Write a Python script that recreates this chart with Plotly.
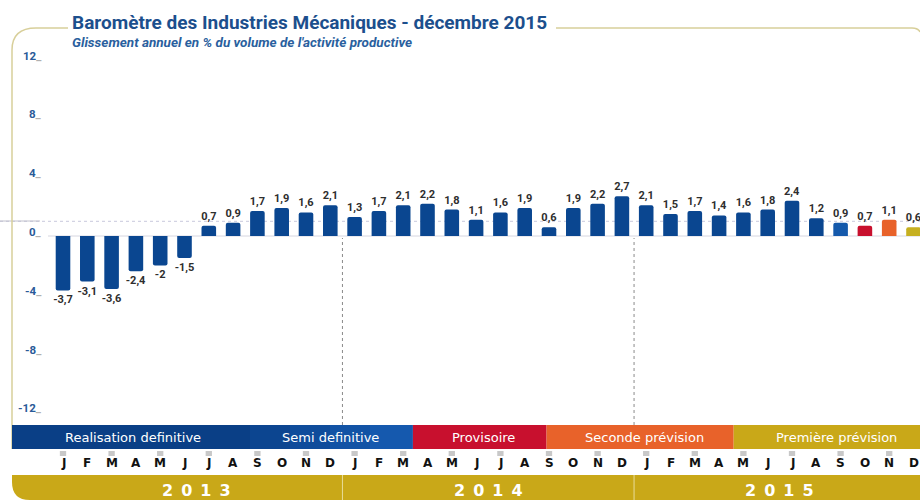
import plotly.graph_objects as go

# ---------------- data ----------------
month_letters = ["J", "F", "M", "A", "M", "J", "J", "A", "S", "O", "N", "D"] * 3
years = ["2013", "2014", "2015"]
values = [-3.7, -3.1, -3.6, -2.4, -2, -1.5, 0.7, 0.9, 1.7, 1.9, 1.6, 2.1,
          1.3, 1.7, 2.1, 2.2, 1.8, 1.1, 1.6, 1.9, 0.6, 1.9, 2.2, 2.7,
          2.1, 1.5, 1.7, 1.4, 1.6, 1.8, 2.4, 1.2, 0.9, 0.7, 1.1, 0.6]
bar_status = ["def"] * 32 + ["semi", "prov", "sec", "prem"]
y_ticks = [12, 8, 4, 0, -4, -8, -12]
status_labels = ["Realisation definitive", "Semi definitive", "Provisoire",
                 "Seconde prévision", "Première prévision"]
status_label_pos = [2.9, 11.0, 17.3, 23.95, 31.85]
status_bounds = [-2.1, 14.4, 19.9, 27.6, 36.5]

# ---------------- styling ----------------
COL = {"def": "#0a4690", "semi": "#1459ab", "prov": "#c8102e",
       "sec": "#e8622a", "prem": "#c6b020"}
BLUE_TXT = "#1c4f8d"
GOLD = "#c9a818"
FRAME = "#d8cf9a"
W, H = 920, 500
X0, DX = 63.0, 24.3   # pixel of first bar, pixels per month
Y0, DY = 236.0, 14.7  # pixel of zero, pixels per unit

xr = [(0 - X0) / DX, (W - X0) / DX]
yr = [-(H - Y0) / DY, Y0 / DY]


def px(x):  # pixel -> paper
    return x / W


def py(y):
    return 1 - y / H


def ix(p):  # pixel -> month index
    return (p - X0) / DX


xs = list(range(len(values)))
labels = [("%g" % v).replace(".", ",") for v in values]
NARROW = "Liberation Sans Narrow, Arial Narrow, Roboto"

fig = go.Figure()
fig.add_trace(go.Bar(
    x=xs, y=values, width=0.6,
    marker=dict(color=[COL[s] for s in bar_status], line=dict(width=0)),
    text=labels, textposition="outside", constraintext="none",
    textfont=dict(family=NARROW, size=11, color="#2e2e2e", weight="bold"),
    cliponaxis=False, hoverinfo="skip",
))

shapes = []
annotations = []

# faint reference lines
shapes.append(dict(type="line", xref="paper", yref="y", x0=0, x1=1, y0=1.0, y1=1.0,
                   line=dict(color="#c9c9dc", width=1, dash="dot"), layer="below"))
shapes.append(dict(type="line", xref="paper", yref="paper", x0=0, x1=px(40), y0=py(221), y1=py(221),
                   line=dict(color="#c0c0cc", width=1), layer="below"))
shapes.append(dict(type="line", xref="paper", yref="y", x0=px(48), x1=1, y0=0, y1=0,
                   line=dict(color="#d6d6e0", width=1), layer="below"))
# year separators in plot area (dotted)
for b in [11.5, 23.5]:
    shapes.append(dict(type="line", xref="x", yref="paper", x0=b, x1=b, y0=py(425), y1=py(238),
                       line=dict(color="#8a8a8a", width=1, dash="dot"), layer="below"))

# frame (rounded top-left)
shapes.append(dict(type="path", xref="paper", yref="paper",
                   path=f"M {px(12)},{py(449)} L {px(12)},{py(50)} Q {px(12)},{py(28)} {px(36)},{py(28)} L {px(68)},{py(28)}",
                   line=dict(color=FRAME, width=1.5)))
shapes.append(dict(type="path", xref="paper", yref="paper",
                   path=f"M {px(556)},{py(28)} L {px(912)},{py(28)} Q {px(918)},{py(28)} {px(920)},{py(32)}",
                   line=dict(color=FRAME, width=1.5)))

# status stripe
blue_steps = [("#0a3f86", ix(12), ix(250)), ("#0c4590", ix(250), ix(290)), ("#0f4c9b", ix(290), ix(330)),
              ("#1253a5", ix(330), ix(370)), ("#1559ae", ix(370), status_bounds[1])]
for c, a, b in blue_steps:
    shapes.append(dict(type="rect", xref="x", yref="paper", x0=a, x1=b, y0=py(449), y1=py(425),
                       fillcolor=c, line=dict(width=0)))
for c, a, b in [(COL["prov"], status_bounds[1], status_bounds[2]),
                (COL["sec"], status_bounds[2], status_bounds[3]),
                (GOLD, status_bounds[3], status_bounds[4])]:
    shapes.append(dict(type="rect", xref="x", yref="paper", x0=a, x1=b, y0=py(449), y1=py(425),
                       fillcolor=c, line=dict(width=0)))
for t, xpos in zip(status_labels, status_label_pos):
    annotations.append(dict(text=t, x=xpos, xref="x", y=py(437), yref="paper", showarrow=False,
                            font=dict(family="DejaVu Sans", size=13, color="white"),
                            xanchor="center", yanchor="middle"))

# gold year band with rounded bottom-left corner
shapes.append(dict(type="path", xref="paper", yref="paper",
                   path=(f"M {px(12)},{py(475)} L {px(920)},{py(475)} L {px(920)},{py(500)} "
                         f"L {px(30)},{py(500)} Q {px(12)},{py(500)} {px(12)},{py(482)} Z"),
                   fillcolor=GOLD, line=dict(width=0)))
for b in [11.5, 23.5]:
    shapes.append(dict(type="line", xref="x", yref="paper", x0=b, x1=b, y0=py(500), y1=py(475),
                       line=dict(color="#e8dc9a", width=1)))
for k, yname in enumerate(years):
    annotations.append(dict(text="\u2002".join(yname), x=k * 12 + 5.5, xref="x", y=py(490), yref="paper",
                            showarrow=False, xanchor="center", yanchor="middle",
                            font=dict(family="DejaVu Sans", size=16, color="white", weight="bold")))

# month letters and small tick marks
for i, m in enumerate(month_letters):
    annotations.append(dict(text=m, x=i, xref="x", y=py(463), yref="paper", showarrow=False,
                            xanchor="center", yanchor="middle",
                            font=dict(family="DejaVu Sans", size=12, color="#111111", weight="bold")))
    if i % 2 == 0:
        shapes.append(dict(type="rect", xref="x", yref="paper", x0=i - 0.13, x1=i + 0.13,
                           y0=py(456), y1=py(451), fillcolor="#c8c8c8", line=dict(width=0)))

# y tick labels
for v in y_ticks:
    annotations.append(dict(text=f"{v}<span style='color:#b0b0b0'>_</span>", x=px(44), xref="paper",
                            y=v, yref="y", yshift=4, showarrow=False, xanchor="right", yanchor="middle",
                            font=dict(family=NARROW, size=11.5, color="#2a5a98", weight="bold")))

# title & subtitle
annotations.append(dict(text="<b>Baromètre des Industries Mécaniques - décembre 2015</b>",
                        x=px(70), y=py(22), xref="paper", yref="paper", showarrow=False,
                        xanchor="left", yanchor="middle", bgcolor="white",
                        font=dict(family=NARROW, size=19, color=BLUE_TXT)))
annotations.append(dict(text="<b><i>Glissement annuel en % du volume de l'activité productive</i></b>",
                        x=px(70), y=py(42), xref="paper", yref="paper", showarrow=False,
                        xanchor="left", yanchor="middle",
                        font=dict(family=NARROW, size=13.5, color="#2a5f9e")))

fig.update_layout(
    width=W, height=H, margin=dict(l=0, r=0, t=0, b=0),
    paper_bgcolor="white", plot_bgcolor="white",
    showlegend=False, barcornerradius=2,
    xaxis=dict(range=xr, visible=False, fixedrange=True),
    yaxis=dict(range=yr, visible=False, fixedrange=True),
    shapes=shapes, annotations=annotations,
)

fig.write_html("out.html", config={"displayModeBar": False},
               post_script="document.body.style.margin='0';document.body.style.overflow='hidden';")
